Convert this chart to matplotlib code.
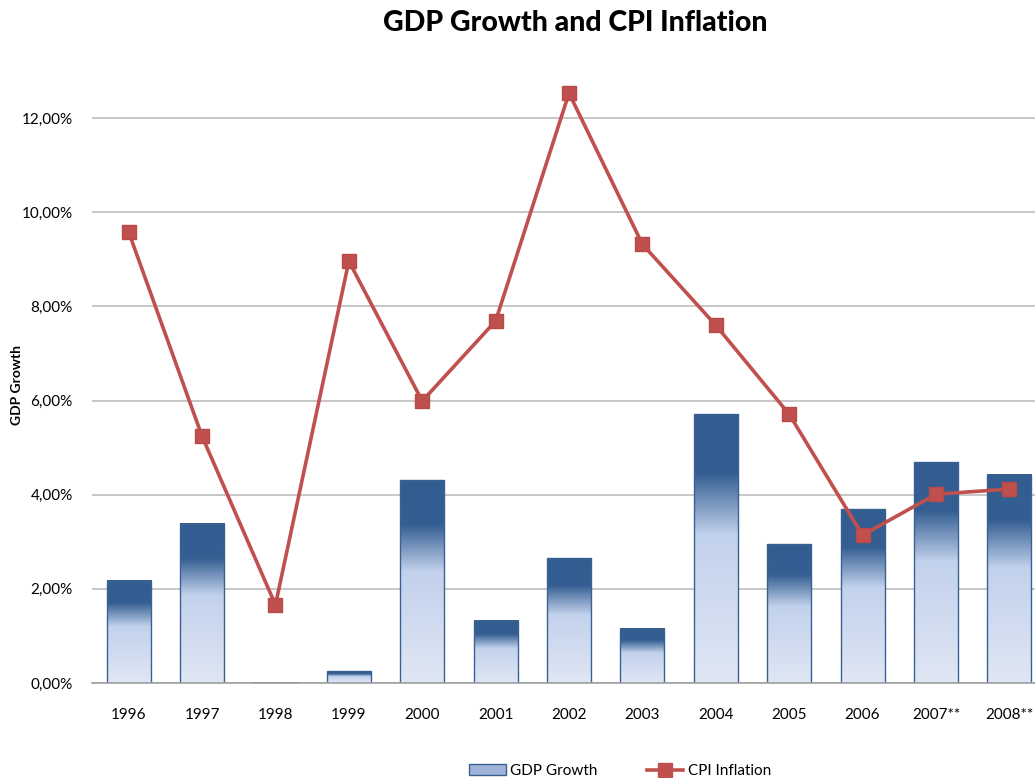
import matplotlib
matplotlib.use("Agg")
import matplotlib.pyplot as plt
import numpy as np
from matplotlib.colors import LinearSegmentedColormap
from matplotlib.patches import Patch
from matplotlib.lines import Line2D
from matplotlib.ticker import FuncFormatter, MultipleLocator

years = ["1996", "1997", "1998", "1999", "2000", "2001", "2002", "2003",
         "2004", "2005", "2006", "2007**", "2008**"]
gdp_growth = [2.17, 3.38, 0.0, 0.25, 4.31, 1.32, 2.65, 1.15, 5.71, 2.95, 3.69, 4.69, 4.42]
cpi_inflation = [9.58, 5.24, 1.66, 8.96, 5.99, 7.69, 12.53, 9.32, 7.60, 5.71, 3.14, 4.01, 4.12]

plt.rcParams['font.family'] = ['Lato', 'DejaVu Sans']

W, H = 1035, 778
fig = plt.figure(figsize=(W / 100, H / 100), dpi=100)
ax = fig.add_axes([92 / W, (H - 683) / H, 954 / W, 0.7866])

x = np.arange(len(years))
bw = 0.6

# gradient colormap: index 0 = bottom, 1 = top
cmap = LinearSegmentedColormap.from_list(
    "bargrad",
    [(0.0, "#e0e7f4"), (0.55, "#c2d1ec"), (0.78, "#355f92"), (1.0, "#335d90")])
grad = np.linspace(0, 1, 256).reshape(-1, 1)

ax.set_axisbelow(True)
ax.yaxis.grid(True, color="#b8b8b8", lw=1.1, zorder=0)

for xi, v in zip(x, gdp_growth):
    if v > 0.02:
        ax.imshow(grad, extent=(xi - bw / 2, xi + bw / 2, 0, v), origin="lower",
                  aspect="auto", cmap=cmap, zorder=2, interpolation="bilinear")
    ax.bar(xi, max(v, 0.0), width=bw, facecolor="none", edgecolor="#3b6192",
           linewidth=1.0, zorder=3)
    if v <= 0.02:
        ax.plot([xi - bw / 2, xi + bw / 2], [0.0, 0.0], color="#3b6192", lw=2.0, zorder=3)

ax.plot(x, cpi_inflation, color="#c0504d", lw=2.6, marker="s", markersize=10,
        markerfacecolor="#c0504d", markeredgecolor="#b94a47", zorder=5)

ax.set_xlim(-0.5, len(years) - 0.5)
ax.set_ylim(0, 13)
ax.yaxis.set_major_locator(MultipleLocator(2))
ax.yaxis.set_major_formatter(FuncFormatter(lambda v, p: f"{v:.2f}".replace(".", ",") + "%"))
ax.set_xticks(x)
ax.set_xticklabels(years)
ax.tick_params(axis="both", length=0, labelsize=11, colors="#000000")
ax.tick_params(axis="x", pad=18)
ax.tick_params(axis="y", pad=14)
for s in ["top", "right", "left"]:
    ax.spines[s].set_visible(False)
ax.spines["bottom"].set_color("#a0a0a0")
ax.spines["bottom"].set_linewidth(1.2)
ax.spines["bottom"].set_zorder(4)

fig.text(17 / W, 1 - 385 / H, "GDP Growth", rotation=90, fontsize=10,
         fontweight="bold", ha="center", va="center")
fig.text(575 / W, 1 - 23 / H, "GDP Growth and CPI Inflation", fontsize=20.5,
         fontweight="black", ha="center", va="center")

handles = [Patch(facecolor="#9fb4d8", edgecolor="#3b6192", label="GDP Growth"),
           Line2D([0], [0], color="#c0504d", lw=2.6, marker="s", markersize=10,
                  label="CPI Inflation")]
fig.legend(handles=handles, loc="center", bbox_to_anchor=(620 / W, 1 - 771 / H),
           ncol=2, frameon=False, fontsize=11, columnspacing=3.2,
           handlelength=2.4, handletextpad=0.3)

fig.savefig("out.png", dpi=100)
